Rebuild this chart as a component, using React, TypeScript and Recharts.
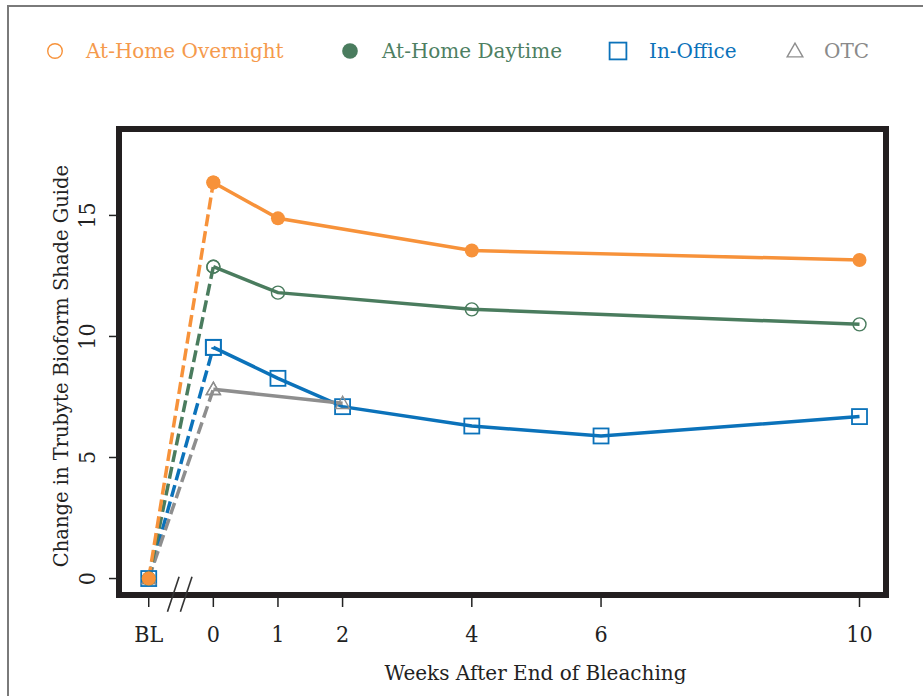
import React from 'react';
import { LineChart, Line, XAxis, YAxis, ReferenceArea, ReferenceLine } from 'recharts';

// x positions in weeks; -1 stands for baseline (BL)
const xTicks = [-1, 0, 1, 2, 4, 6, 10];
const xTickLabels = ['BL', '0', '1', '2', '4', '6', '10'];
const yTicks = [0, 5, 10, 15];

const overnightWeeks = [-1, 0, 1, 4, 10];
const overnightValues = [0, 16.36, 14.88, 13.55, 13.16];
const daytimeWeeks = [-1, 0, 1, 4, 10];
const daytimeValues = [0, 12.88, 11.81, 11.12, 10.5];
const inOfficeWeeks = [-1, 0, 1, 2, 4, 6, 10];
const inOfficeValues = [0, 9.55, 8.27, 7.1, 6.3, 5.89, 6.69];
const otcWeeks = [-1, 0, 2];
const otcValues = [0, 7.82, 7.24];

const seriesNames = ['At-Home Overnight', 'At-Home Daytime', 'In-Office', 'OTC'];

const X_DOMAIN: [number, number] = [-1.46, 10.41];
const Y_DOMAIN: [number, number] = [-0.68, 18.57];
const breakMarks = [-0.62, -0.42];

const SERIF = "'DejaVu Serif', serif";
const SERIF_C = "'DejaVu Serif Condensed', 'DejaVu Serif', serif";

type Shape = 'filledCircle' | 'openCircle' | 'square' | 'triangle';

const build = (ws: number[], vs: number[]) => ws.map((w, i) => ({ w, v: vs[i] }));

const series = [
  { key: 'io', name: seriesNames[2], color: '#0B72BA', text: '#0B72BA', shape: 'square' as Shape, legendShape: 'square' as Shape, data: build(inOfficeWeeks, inOfficeValues) },
  { key: 'otc', name: seriesNames[3], color: '#8E8E8E', text: '#8A8A8A', shape: 'triangle' as Shape, legendShape: 'triangle' as Shape, data: build(otcWeeks, otcValues) },
  { key: 'day', name: seriesNames[1], color: '#4A7C5E', text: '#4E7F62', shape: 'openCircle' as Shape, legendShape: 'filledCircle' as Shape, data: build(daytimeWeeks, daytimeValues) },
  { key: 'ov', name: seriesNames[0], color: '#F7923A', text: '#F59A4C', shape: 'filledCircle' as Shape, legendShape: 'openCircle' as Shape, data: build(overnightWeeks, overnightValues) },
];

const legendOrder = ['ov', 'day', 'io', 'otc'];
const legendPos = [
  { mx: 55, tx: 86 },
  { mx: 350, tx: 382 },
  { mx: 618, tx: 649 },
  { mx: 795, tx: 824 },
];

function marker(shape: Shape, cx: number, cy: number, color: string, key: string, big = false) {
  const s = big ? 1.12 : 1;
  switch (shape) {
    case 'filledCircle':
      return <circle key={key} cx={cx} cy={cy} r={7 * s} fill={color} stroke="none" />;
    case 'openCircle':
      return <circle key={key} cx={cx} cy={cy} r={6.5 * s} fill="none" stroke={color} strokeWidth={1.4} />;
    case 'square':
      return <rect key={key} x={cx - 7.5 * s} y={cy - 7.5 * s} width={15 * s} height={15 * s} fill="none" stroke={color} strokeWidth={1.8} />;
    case 'triangle': {
      const h = 7 * s;
      return (
        <polygon
          key={key}
          points={`${cx},${cy - h} ${cx - h},${cy + h * 0.75} ${cx + h},${cy + h * 0.75}`}
          fill="none"
          stroke={color}
          strokeWidth={1.4}
        />
      );
    }
  }
  return <g key={key} />;
}

const XTick = (p: any) => {
  const i = xTicks.indexOf(p.payload.value);
  return (
    <text x={p.x} y={p.y} dy={33} textAnchor="middle" fontFamily={SERIF_C} fontSize={23} fill="#222">
      {xTickLabels[i]}
    </text>
  );
};

const YTick = (p: any) => (
  <text
    x={p.x}
    y={p.y}
    transform={`rotate(-90, ${p.x}, ${p.y})`}
    textAnchor="middle"
    fontFamily={SERIF_C}
    fontSize={23}
    fill="#222"
  >
    {p.payload.value}
  </text>
);

export default function App() {
  return (
    <div style={{ position: 'absolute', left: 0, top: 0, width: 923, height: 696, background: '#fff', overflow: 'hidden' }}>
      <div
        style={{
          position: 'absolute',
          left: 7,
          top: 5,
          width: 920,
          height: 700,
          borderLeft: '2px solid #7a7a7a',
          borderTop: '2px solid #7a7a7a',
        }}
      />
      <div style={{ position: 'absolute', left: 0, top: 0 }}>
        <LineChart width={923} height={696} margin={{ top: 129, right: 37, bottom: 41, left: 59 }}>
          <XAxis
            dataKey="w"
            type="number"
            domain={X_DOMAIN}
            ticks={xTicks}
            allowDataOverflow
            axisLine={false}
            tickSize={12}
            tickMargin={2}
            tickLine={{ stroke: '#222', strokeWidth: 1.5 }}
            tick={<XTick />}
            height={60}
            interval={0}
            label={(props: any) => {
              const vb = props.viewBox;
              return (
                <text x={vb.x + vb.width / 2 + 33} y={vb.y + 85} textAnchor="middle" fontFamily={SERIF} fontSize={20} fill="#222">
                  Weeks After End of Bleaching
                </text>
              );
            }}
          />
          <YAxis
            type="number"
            domain={Y_DOMAIN}
            ticks={yTicks}
            allowDataOverflow
            axisLine={false}
            width={60}
            tickSize={10}
            tickMargin={14}
            tickLine={{ stroke: '#222', strokeWidth: 1.5 }}
            tick={<YTick />}
            interval={0}
            label={(props: any) => {
              const vb = props.viewBox;
              const x = vb.x + 9;
              const y = vb.y + vb.height / 2 + 4;
              return (
                <text x={x} y={y} transform={`rotate(-90, ${x}, ${y})`} textAnchor="middle" fontFamily={SERIF} fontSize={19.5} fill="#222">
                  Change in Trubyte Bioform Shade Guide
                </text>
              );
            }}
          />
          {breakMarks.map((b) => (
            <ReferenceLine
              key={b}
              segment={[
                { x: b + 0.09, y: 0.07 },
                { x: b - 0.09, y: -1.37 },
              ]}
              stroke="#333"
              strokeWidth={1.6}
              ifOverflow="visible"
            />
          ))}
          <ReferenceArea
            x1={X_DOMAIN[0]}
            x2={X_DOMAIN[1]}
            y1={Y_DOMAIN[0]}
            y2={Y_DOMAIN[1]}
            fill="none"
            fillOpacity={0}
            stroke="#231f20"
            strokeWidth={6}
            ifOverflow="visible"
          />
          {series.map((s) => (
            <Line
              key={s.key + '-dash'}
              data={s.data.slice(0, 2)}
              dataKey="v"
              type="linear"
              stroke={s.color}
              strokeWidth={3.5}
              strokeDasharray="12 5"
              isAnimationActive={false}
              dot={(p: any) => marker(s.shape, p.cx, p.cy, s.color, `${s.key}-d-${p.index}`)}
              activeDot={false}
              legendType="none"
            />
          ))}
          {series.map((s) => (
            <Line
              key={s.key + '-solid'}
              data={s.data.slice(1)}
              dataKey="v"
              type="linear"
              stroke={s.color}
              strokeWidth={3.5}
              isAnimationActive={false}
              dot={(p: any) => marker(s.shape, p.cx, p.cy, s.color, `${s.key}-s-${p.index}`)}
              activeDot={false}
              name={s.name}
            />
          ))}
        </LineChart>
      </div>
      <svg width={923} height={90} style={{ position: 'absolute', left: 0, top: 0, pointerEvents: 'none' }}>
        {legendOrder.map((k, i) => {
          const s = series.find((d) => d.key === k)!;
          const pos = legendPos[i];
          return (
            <g key={k}>
              {marker(s.legendShape, pos.mx, 51, s.color, k + '-lm', true)}
              <text x={pos.tx} y={58} fontFamily={SERIF} fontSize={20} fill={s.text}>
                {s.name}
              </text>
            </g>
          );
        })}
      </svg>
    </div>
  );
}
